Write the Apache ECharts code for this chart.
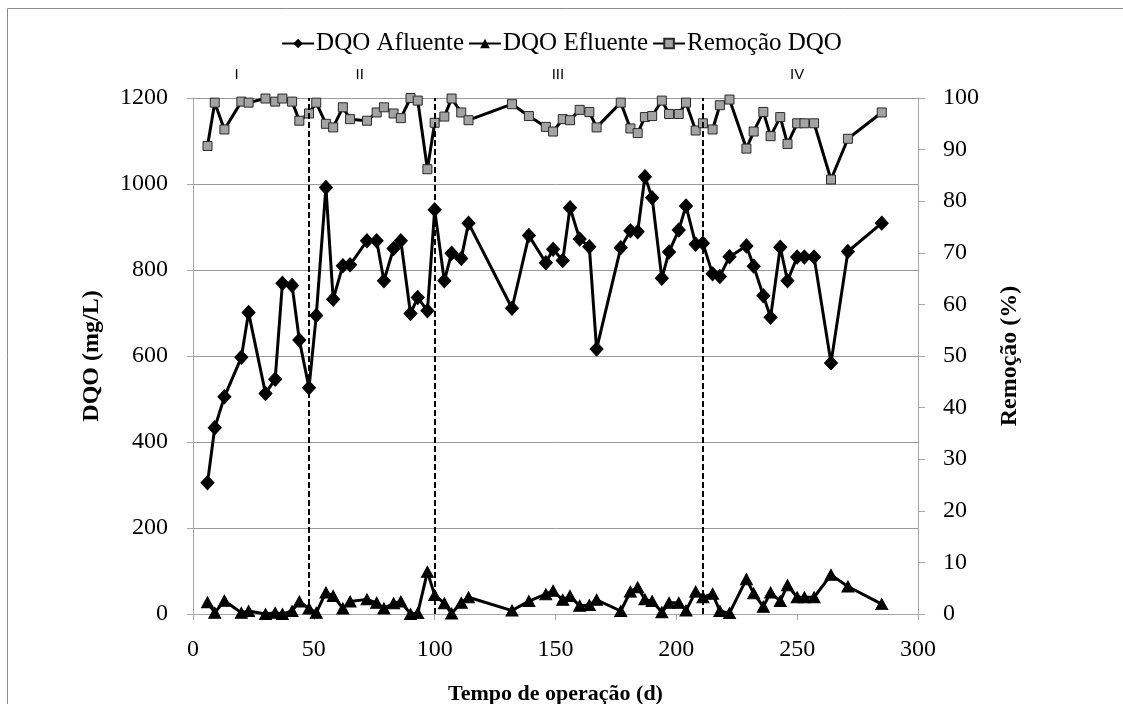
<!DOCTYPE html>
<html>
<head>
<meta charset="utf-8">
<script src="https://cdn.jsdelivr.net/npm/echarts@6/dist/echarts.min.js"></script>
<style>
  html, body { margin: 0; padding: 0; background: #fff; }
  #chart { width: 1123px; height: 704px; }
</style>
</head>
<body>
<div id="chart"></div>
<script>
// Operation day of each sample
const days = [6, 9, 13, 20, 23, 30, 34, 37, 41, 44, 48,
  51, 55, 58, 62, 65, 72, 76, 79, 83, 86, 90, 93, 97, 100,
  104, 107, 111, 114, 132, 139, 146, 149, 153, 156, 160, 164, 167, 177, 181, 184, 187, 190, 194, 197, 201, 204, 208, 211,
  215, 218, 222, 229, 232, 236, 239, 243, 246, 250, 253, 257, 264, 271, 285];

// Influent COD (mg/L)
const dqoAfluente = [305, 433, 505, 597, 701, 513, 546, 769, 764, 637, 526,
  694, 992, 732, 810, 812, 868, 868, 775, 850, 868, 699, 736, 705, 940,
  775, 839, 827, 909, 711, 880, 817, 848, 822, 945, 872, 854, 616, 852, 891, 889, 1017, 968, 781, 842, 893, 949, 860, 862,
  791, 785, 831, 856, 809, 740, 690, 853, 775, 830, 830, 830, 584, 843, 909];

// Effluent COD (mg/L)
const dqoEfluente = [27, 3, 31, 3, 7, 0, 3, 0, 7, 29, 13,
  3, 50, 42, 13, 29, 34, 26, 13, 25, 29, 0, 2, 98, 44,
  25, 1, 26, 39, 8, 30, 46, 54, 33, 42, 19, 21, 33, 7, 52, 62, 34, 30, 4, 26, 26, 8, 52, 39,
  47, 7, 2, 81, 48, 17, 50, 30, 67, 39, 39, 39, 91, 64, 23];

// COD removal (%)
const remocaoDqo = [90.7, 99.1, 93.9, 99.3, 99.1, 99.9, 99.3, 99.9, 99.3, 95.6, 97.0,
  99.1, 95.0, 94.3, 98.2, 95.9, 95.6, 97.2, 98.2, 97.0, 96.1, 100.0, 99.5, 86.2, 95.2,
  96.4, 99.9, 97.2, 95.7, 98.8, 96.5, 94.4, 93.5, 95.9, 95.7, 97.7, 97.3, 94.3, 99.1, 94.1, 93.2, 96.3, 96.5, 99.5, 96.9, 96.9, 99.1, 93.7, 95.1,
  93.9, 98.6, 99.7, 90.2, 93.5, 97.3, 92.6, 96.3, 91.1, 95.1, 95.1, 95.1, 84.2, 92.1, 97.2];

// Phase boundaries (day) and phase names
const phaseLimits = [48, 100, 211];
const phaseNames = ['I', 'II', 'III', 'IV'];
const phaseLabelDays = [18, 69, 151, 250];

const seriesNames = ['DQO Afluente', 'DQO Efluente', 'Remoção DQO'];
const xTitle = 'Tempo de operação (d)';
const yLeftTitle = 'DQO (mg/L)';
const yRightTitle = 'Remoção (%)';

const pair = (vals) => days.map((d, i) => [d, vals[i]]);

const serif = 'Liberation Serif, Times New Roman, serif';
const axisGray = '#a6a6a6';
const gridGray = '#9a9a9a';
const plain = (v) => String(v);

const chart = echarts.init(document.getElementById('chart'), null, { renderer: 'canvas' });

const option = {
  animation: false,
  backgroundColor: '#fff',
  textStyle: { fontFamily: serif, color: '#000' },
  grid: { left: 193, right: 205, top: 98, bottom: 90, containLabel: false },
  legend: {
    top: 26,
    left: 'center',
    itemWidth: 32,
    itemHeight: 12,
    itemGap: 4,
    textStyle: { fontFamily: serif, fontSize: 25, color: '#000', padding: [0, 0, 0, -3] },
    data: seriesNames
  },
  xAxis: {
    type: 'value',
    min: 0, max: 300, interval: 50,
    axisLine: { show: true, onZero: false, lineStyle: { color: axisGray, width: 1 } },
    axisTick: { show: true, length: 6, lineStyle: { color: axisGray } },
    axisLabel: { fontFamily: serif, fontSize: 24, color: '#000', margin: 24, formatter: plain },
    splitLine: { show: false }
  },
  yAxis: [
    {
      type: 'value',
      min: 0, max: 1200, interval: 200,
      axisLine: { show: true, lineStyle: { color: axisGray, width: 1 } },
      axisTick: { show: true, length: 6, lineStyle: { color: axisGray } },
      axisLabel: { fontFamily: serif, fontSize: 24, color: '#000', margin: 25, formatter: plain },
      splitLine: { show: true, lineStyle: { color: gridGray, width: 1 } }
    },
    {
      type: 'value',
      min: 0, max: 100, interval: 10,
      position: 'right',
      axisLine: { show: true, lineStyle: { color: axisGray, width: 1 } },
      axisTick: { show: true, length: 7, lineStyle: { color: axisGray } },
      axisLabel: { fontFamily: serif, fontSize: 24, color: '#000', margin: 25, formatter: plain },
      splitLine: { show: false }
    }
  ],
  series: [
    {
      name: seriesNames[0],
      type: 'line',
      data: pair(dqoAfluente),
      symbol: 'diamond',
      symbolSize: [13, 14],
      lineStyle: { color: '#000', width: 3 },
      itemStyle: { color: '#000', borderColor: '#000' },
      z: 3,
      markLine: {
        silent: true,
        symbol: ['none', 'none'],
        label: { show: false },
        lineStyle: { color: '#000', type: [6, 3], width: 2 },
        data: phaseLimits.map(d => ({ xAxis: d }))
      }
    },
    {
      name: seriesNames[1],
      type: 'line',
      data: pair(dqoEfluente),
      symbol: 'triangle',
      symbolSize: [12, 11],
      lineStyle: { color: '#000', width: 3 },
      itemStyle: { color: '#000', borderColor: '#000' },
      z: 3
    },
    {
      name: seriesNames[2],
      type: 'line',
      yAxisIndex: 1,
      data: pair(remocaoDqo),
      symbol: 'rect',
      symbolSize: 9,
      lineStyle: { color: '#000', width: 3 },
      itemStyle: { color: '#a3a3a3', borderColor: '#2a2a2a', borderWidth: 1 },
      z: 3
    }
  ]
};

chart.setOption(option);

// Frame, axis titles and phase names
const plotMidX = (193 + 918) / 2;
const plotMidY = (98 + 614) / 2;
const graphics = [
  {
    type: 'rect', silent: true, z: -10,
    shape: { x: 7.5, y: 8.5, width: 1300, height: 900 },
    style: { fill: 'none', stroke: '#8c8c8c', lineWidth: 1 }
  },
  {
    type: 'text', silent: true,
    x: 92, y: plotMidY, rotation: Math.PI / 2,
    style: { text: yLeftTitle, font: 'bold 24px ' + serif, fill: '#000', align: 'center', verticalAlign: 'middle' }
  },
  {
    type: 'text', silent: true,
    x: 1010, y: plotMidY, rotation: Math.PI / 2,
    style: { text: yRightTitle, font: 'bold 24px ' + serif, fill: '#000', align: 'center', verticalAlign: 'middle' }
  },
  {
    type: 'text', silent: true,
    x: plotMidX, y: 694,
    style: { text: xTitle, font: 'bold 22px ' + serif, fill: '#000', align: 'center', verticalAlign: 'middle' }
  }
];
phaseNames.forEach((n, i) => {
  const px = chart.convertToPixel({ xAxisIndex: 0 }, phaseLabelDays[i]);
  graphics.push({
    type: 'text', silent: true,
    x: px, y: 75,
    style: { text: n, font: '15px Liberation Sans, Arial, sans-serif', fill: '#000', align: 'center', verticalAlign: 'middle' }
  });
});
chart.setOption({ graphic: graphics });
</script>
</body>
</html>
